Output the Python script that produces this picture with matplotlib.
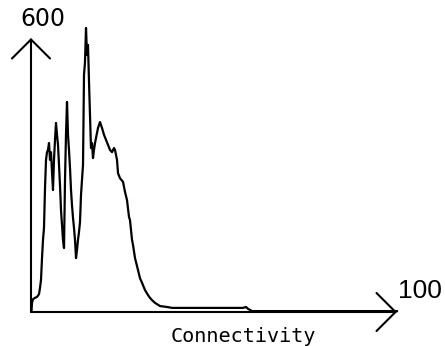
import matplotlib
matplotlib.use('Agg')
import matplotlib.pyplot as plt

# connectivity histogram
connectivity = [0.14, 0.27, 0.55, 1.09, 1.64, 2.19, 2.46, 2.73, 3.01, 3.28,
                3.55, 3.83, 4.10, 4.37, 4.64, 4.92, 5.19, 5.46, 5.74, 6.01,
                6.28, 6.56, 6.83, 7.10, 7.38, 7.65, 7.92, 8.20, 8.47, 8.74,
                9.02, 9.29, 9.56, 9.84, 10.11, 10.38, 10.66, 10.93, 11.20, 11.48,
                11.75, 12.02, 12.30, 12.57, 12.84, 13.11, 13.39, 13.66, 13.93, 14.21,
                14.48, 14.75, 15.03, 15.30, 15.57, 15.85, 16.12, 16.39, 16.67, 16.94,
                17.21, 17.49, 18.03, 18.31, 18.85, 19.40, 19.95, 20.49, 21.04, 21.58,
                22.13, 22.68, 22.95, 23.50, 23.77, 24.32, 25.14, 25.68, 26.23, 26.78,
                27.05, 27.60, 27.87, 28.42, 29.23, 29.78, 30.33, 31.15, 31.97, 32.51,
                33.06, 33.88, 35.25, 37.16, 38.52, 46.17, 57.92, 58.74, 59.29, 60.38,
                73.50, 100.0]
counts = [2, 20, 28, 31, 33, 39, 53, 70, 118, 158,
          184, 272, 333, 350, 355, 370, 333, 350, 307, 267,
          333, 377, 414, 388, 366, 322, 278, 223, 191, 158,
          140, 289, 388, 460, 388, 355, 315, 267, 234, 206,
          184, 158, 118, 136, 158, 175, 197, 256, 289, 322,
          519, 547, 622, 563, 585, 504, 431, 359, 370, 337,
          355, 370, 392, 403, 416, 403, 388, 377, 366, 355,
          350, 359, 355, 333, 304, 293, 285, 263, 245, 208,
          201, 158, 147, 118, 92, 74, 64, 48, 37, 31,
          26, 20, 13, 11, 9, 9, 9, 11, 7, 2,
          2, 2]

W, H = 445, 346
fig = plt.figure(figsize=(W / 100, H / 100), dpi=100)
fig.patch.set_facecolor('white')

# axes placed so that origin / arrow tips sit where the scan has them
x0, x1 = 31, 397
y0, y1 = 312, 38
ax = fig.add_axes([x0 / W, (H - y0) / H, (x1 - x0) / W, (y0 - y1) / H])
ax.set_xlim(0, 100)
ax.set_ylim(0, 600)
ax.axis('off')

ax.plot(connectivity, counts, color='black', lw=1.6, clip_on=False)

arrow = dict(arrowstyle='->,head_length=1.37,head_width=1.37', color='black',
             lw=1.5, shrinkA=0, shrinkB=0, mutation_scale=10)
ax.annotate('', xy=(0, 600), xytext=(0, 0), arrowprops=arrow, annotation_clip=False)
ax.annotate('', xy=(100, 0), xytext=(0, 0), arrowprops=arrow, annotation_clip=False)

fig.text(43 / W, 1 - 18.5 / H, '600', family=['DejaVu Sans'], fontsize=17,
         ha='center', va='center')
fig.text(420 / W, 1 - 291.5 / H, '100', family=['Liberation Sans'],
         fontsize=19, ha='center', va='center')
fig.text(243 / W, 1 - 336 / H, 'Connectivity', family=['DejaVu Sans Mono'], fontsize=14.5,
         ha='center', va='center')

fig.savefig('out.png', dpi=100, facecolor='white')
